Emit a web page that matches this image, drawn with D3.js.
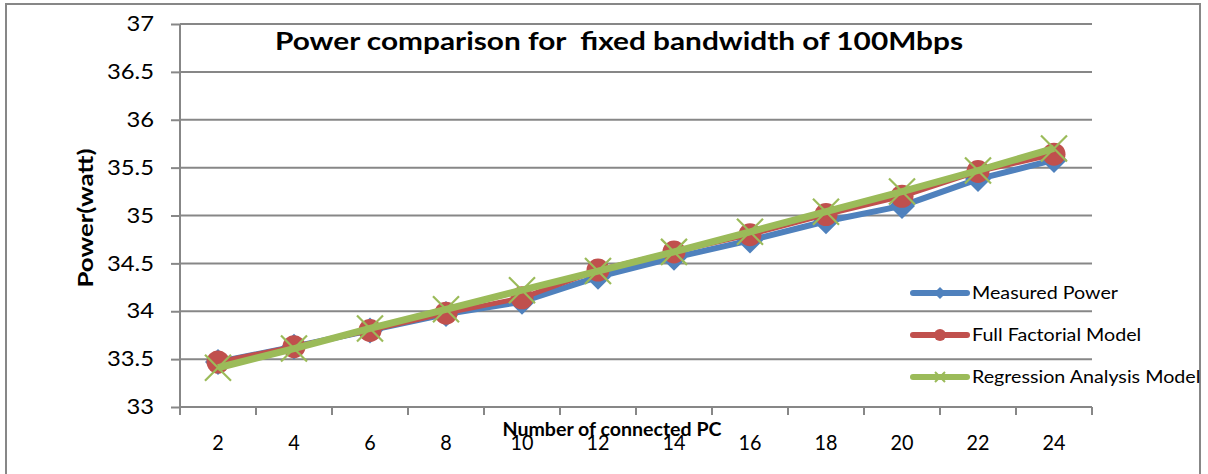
<!DOCTYPE html>
<html><head><meta charset="utf-8">
<script src="https://cdn.jsdelivr.net/npm/d3@7"></script>
<style>body{margin:0;background:#fff;}svg{display:block;font-family:Lato,"Open Sans",sans-serif;}</style>
</head><body><svg id="c" width="1208" height="474"></svg>
<script>
const categories = ["2","4","6","8","10","12","14","16","18","20","22","24"];
const measured   = [33.47,33.63,33.80,33.97,34.10,34.36,34.56,34.74,34.94,35.10,35.38,35.58];
const fullFact   = [33.47,33.63,33.80,33.98,34.14,34.43,34.62,34.80,35.01,35.20,35.46,35.64];
const regression = [33.41,33.61,33.82,34.02,34.22,34.42,34.62,34.83,35.04,35.25,35.47,35.70];
const yTicks = [33,33.5,34,34.5,35,35.5,36,36.5,37];
const seriesNames = ["Measured Power","Full Factorial Model","Regression Analysis Model"];
const colors = ["#4F81BD","#C0504D","#9BBB59"];

const svg = d3.select("#c");
const L=180, R=1092, T=24, B=407;
const x = d3.scaleBand().domain(categories).range([L,R]);
const y = d3.scaleLinear().domain([33,37]).range([B,T]);
const grey="#878787";

function fit(sel, refNode, target){
  const k = target / refNode.getComputedTextLength();
  sel.each(function(){
    const w=this.getComputedTextLength();
    d3.select(this).attr("textLength",w*k).attr("lengthAdjust","spacingAndGlyphs");
  });
}

svg.append("rect").attr("x",6).attr("y",4).attr("width",1194).attr("height",480)
  .attr("fill","none").attr("stroke",grey).attr("stroke-width",2);

svg.append("g").selectAll("line").data(yTicks.slice(1)).join("line")
  .attr("x1",L).attr("x2",R).attr("y1",d=>y(d)).attr("y2",d=>y(d))
  .attr("stroke",grey).attr("stroke-width",2);

const ya = svg.append("g").attr("transform",`translate(${L},0)`)
  .call(d3.axisLeft(y).tickValues(yTicks).tickSize(9).tickPadding(17).tickFormat(d3.format("")));
ya.select(".domain").attr("stroke",grey).attr("stroke-width",2).attr("d",`M-0,${B}V${T}`);
ya.selectAll(".tick line").attr("stroke",grey).attr("stroke-width",2);
const yt = ya.selectAll("text").attr("font-size",21).attr("fill","#000").attr("font-family","Lato,sans-serif");
fit(yt, yt.filter(d=>d===36.5).node(), 47);

const xa = svg.append("g").attr("transform",`translate(0,${B})`)
  .call(d3.axisBottom(x).tickSize(0).tickPadding(28));
xa.select(".domain").attr("stroke",grey).attr("stroke-width",2).attr("d",`M${L},0H${R}`);
const xt = xa.selectAll("text").attr("font-size",21).attr("fill","#000").attr("font-family","Lato,sans-serif");
fit(xt, xt.filter(d=>d==="10").node(), 23);
const bounds = categories.map(c=>x(c)).concat([R]);
xa.append("g").selectAll("line").data(bounds).join("line")
  .attr("x1",d=>d).attr("x2",d=>d).attr("y1",0).attr("y2",8)
  .attr("stroke",grey).attr("stroke-width",2);

const cx = c => x(c)+x.bandwidth()/2;
const line = d3.line().x((d,i)=>cx(categories[i])).y(d=>y(d));

const data=[measured,fullFact,regression];
const widths=[6,5,7];
data.forEach((s,k)=>{
  svg.append("path").datum(s).attr("d",line).attr("fill","none")
    .attr("stroke",colors[k]).attr("stroke-width",widths[k]).attr("stroke-linejoin","round");
  const g=svg.append("g");
  if(k===0){
    g.selectAll("path").data(s).join("path")
      .attr("d",(d,i)=>{const X=cx(categories[i]),Y=y(d),r=13;return `M${X},${Y-r}L${X+r},${Y}L${X},${Y+r}L${X-r},${Y}Z`;})
      .attr("fill",colors[0]);
  } else if(k===1){
    g.selectAll("circle").data(s).join("circle")
      .attr("cx",(d,i)=>cx(categories[i])).attr("cy",d=>y(d)).attr("r",11.5).attr("fill",colors[1]);
  } else {
    g.selectAll("path").data(s).join("path")
      .attr("d",(d,i)=>{const X=cx(categories[i]),Y=y(d),r=13;return `M${X-r},${Y-r}L${X+r},${Y+r}M${X-r},${Y+r}L${X+r},${Y-r}`;})
      .attr("stroke",colors[2]).attr("stroke-width",2.2).attr("fill","none");
  }
});

const ly=[293,335,377];
const legTexts=[];
seriesNames.forEach((n,k)=>{
  const g=svg.append("g");
  g.append("line").attr("x1",913).attr("x2",967).attr("y1",ly[k]).attr("y2",ly[k])
    .attr("stroke",colors[k]).attr("stroke-width",6).attr("stroke-linecap","round");
  if(k===0) g.append("path").attr("d",`M940,${ly[k]-6}L946,${ly[k]}L940,${ly[k]+6}L934,${ly[k]}Z`).attr("fill",colors[0]);
  if(k===1) g.append("circle").attr("cx",940).attr("cy",ly[k]).attr("r",6).attr("fill",colors[1]);
  if(k===2) g.append("path").attr("d",`M935,${ly[k]-5}L945,${ly[k]+5}M935,${ly[k]+5}L945,${ly[k]-5}`).attr("stroke",colors[2]).attr("stroke-width",2);
  legTexts.push(g.append("text").attr("class","leg").attr("x",972).attr("y",ly[k]+6).attr("font-size",17).attr("fill","#000").text(n).node());
});
fit(svg.selectAll("text.leg"), legTexts[0], 146);

const t1=svg.append("text").attr("x",619).attr("y",50).attr("text-anchor","middle")
  .attr("font-size",24).attr("font-weight","bold").attr("fill","#000")
  .style("white-space","pre").text("Power comparison for  fixed bandwidth of 100Mbps");
fit(t1, t1.node(), 688);
const t2=svg.append("text").attr("transform","translate(93,218) rotate(-90)").attr("text-anchor","middle")
  .attr("font-size",21).attr("font-weight","bold").attr("fill","#000").text("Power(watt)");
fit(t2, t2.node(), 139);
const t3=svg.append("text").attr("x",612).attr("y",436).attr("text-anchor","middle")
  .attr("font-size",18).attr("font-weight","bold").attr("fill","#000").text("Number of connected PC");
fit(t3, t3.node(), 219);
</script></body></html>
